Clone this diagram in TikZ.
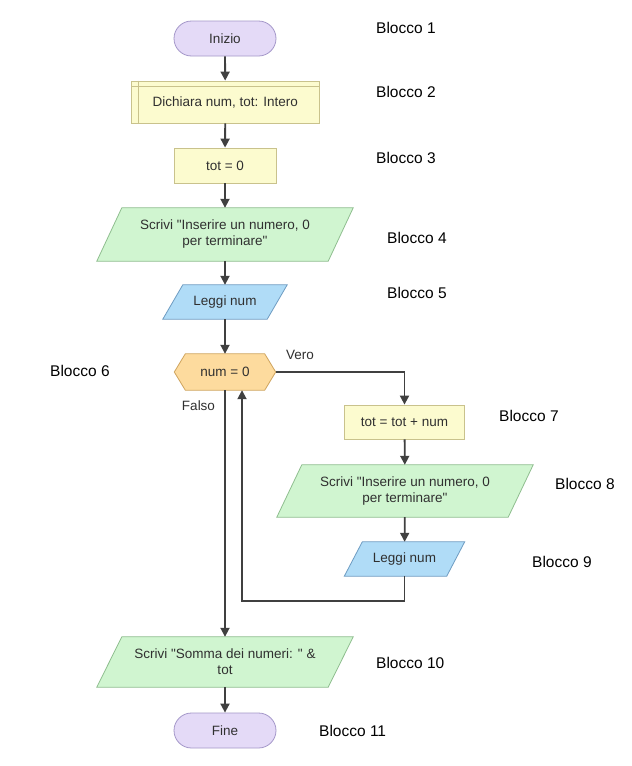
\documentclass[tikz,border=0pt]{standalone}
\usepackage{fontspec}
\setmainfont{Liberation Sans}[Ligatures=TeXOff]
\usetikzlibrary{arrows.meta}
\pgfdeclarelayer{bg}
\pgfsetlayers{bg,main}
\definecolor{termfill}{HTML}{E4DAF7}
\definecolor{termdraw}{HTML}{A497C9}
\definecolor{procfill}{HTML}{FCFBCF}
\definecolor{procdraw}{HTML}{C9C28C}
\definecolor{iofill}{HTML}{D0F5D0}
\definecolor{iodraw}{HTML}{8FBE8F}
\definecolor{infill}{HTML}{B0DCF7}
\definecolor{indraw}{HTML}{6E9CC2}
\definecolor{decfill}{HTML}{FDDB9E}
\definecolor{decdraw}{HTML}{CFA45E}
\definecolor{linecol}{HTML}{404040}
\definecolor{txt}{HTML}{303030}
\newcommand\myparal[3]{%
  \begin{pgfonlayer}{bg}
  \filldraw[#3] ([xshift=#2]#1.north west) -- (#1.north east) -- ([xshift=-#2]#1.south east) -- (#1.south west) -- cycle;
  \end{pgfonlayer}}
\begin{document}
\begin{tikzpicture}[x=1pt,y=-1pt,
  box/.style={inner sep=0pt, align=center, font=\fontsize{13.5}{16}\selectfont, text=txt},
  term/.style={box, draw=termdraw, fill=termfill, line width=0.8pt, rounded corners=17.5pt, minimum width=102pt, minimum height=35pt},
  proc/.style={box, draw=procdraw, fill=procfill, line width=0.8pt, minimum height=35pt},
  io/.style={draw=iodraw, fill=iofill, line width=0.8pt},
  inp/.style={draw=indraw, fill=infill, line width=0.8pt},
  dec/.style={draw=decdraw, fill=decfill, line width=0.8pt},
  blk/.style={anchor=west, inner sep=0pt, font=\fontsize{15.5}{18}\selectfont, text=black},
  lbl/.style={inner sep=0pt, font=\fontsize{13.5}{16}\selectfont, text=txt},
  arr/.style={draw=linecol, line width=1.8pt, -{Triangle[width=9pt,length=9pt]}}]
\begin{pgfonlayer}{bg}
\fill[white] (0,0) rectangle (632,766);
\end{pgfonlayer}
\useasboundingbox (0,0) rectangle (632,766);

% nodes
\node[term] (n1) at (225,38.5) {Inizio};
\node[proc, minimum width=187.5pt, minimum height=42pt] (n2) at (225.25,102) {\raisebox{-3pt}{Dichiara num, tot: Intero}};
\draw[procdraw, line width=0.8pt] ([yshift=-6pt]n2.north west) -- ([yshift=-6pt]n2.north east);
\draw[procdraw, line width=0.8pt] ([xshift=7pt]n2.north west) -- ([xshift=7pt]n2.south west);
\node[proc, minimum width=102pt] (n3) at (225,165.5) {tot = 0};
\node[box, minimum width=256pt, minimum height=53pt] (n4) at (225,234.5) {Scrivi "Inserire un numero, 0\\per terminare"};
\myparal{n4}{25pt}{io}
\node[box, minimum width=124pt, minimum height=34pt] (n5) at (225,302) {Leggi num};
\myparal{n5}{20pt}{inp}
\node[box, minimum width=101pt, minimum height=36pt] (n6) at (225,372) {num = 0};
\begin{pgfonlayer}{bg}
\filldraw[dec] (n6.west) -- ([xshift=11pt]n6.north west) -- ([xshift=-11pt]n6.north east) -- (n6.east) -- ([xshift=-11pt]n6.south east) -- ([xshift=11pt]n6.south west) -- cycle;
\end{pgfonlayer}
\node[proc, minimum width=120pt, minimum height=34pt] (n7) at (404.5,422) {tot = tot + num};
\node[box, minimum width=256pt, minimum height=52pt] (n8) at (405,491) {Scrivi "Inserire un numero, 0\\per terminare"};
\myparal{n8}{25pt}{io}
\node[box, minimum width=120pt, minimum height=34pt] (n9) at (404.5,559) {Leggi num};
\myparal{n9}{18pt}{inp}
\node[box, minimum width=256pt, minimum height=50pt] (n10) at (225,662) {Scrivi "Somma dei numeri: " \&\\tot};
\myparal{n10}{25pt}{io}
\node[term] (n11) at (225,730.5) {Fine};

% connectors
\draw[arr] (n1) -- (n2);
\draw[arr] (n2) -- (n3);
\draw[arr] (n3) -- (n4);
\draw[arr] (n4) -- (n5);
\draw[arr] (n5) -- (n6);
\draw[arr] (n6.east) -| (n7.north);
\draw[arr] (n7) -- (n8);
\draw[arr] (n8) -- (n9);
\coordinate (loopc) at (404.5,601);
\draw[arr] (n9.south) -- (loopc) -| ([xshift=17pt]n6.south);
\draw[arr] (n6.south) -- (n10.north);
\draw[arr] (n10) -- (n11);

% branch labels
\node[lbl] (vero) at (300,355) {Vero};
\node[lbl] (falso) at (198.5,406) {Falso};

% block labels
\node[blk] (b1) at (376,28) {Blocco 1};
\node[blk] (b2) at (376,92) {Blocco 2};
\node[blk] (b3) at (376,158) {Blocco 3};
\node[blk] (b4) at (387,238) {Blocco 4};
\node[blk] (b5) at (387,293) {Blocco 5};
\node[blk] (b6) at (50,371) {Blocco 6};
\node[blk] (b7) at (499,416) {Blocco 7};
\node[blk] (b8) at (555,484) {Blocco 8};
\node[blk] (b9) at (532,562) {Blocco 9};
\node[blk] (b10) at (376,663) {Blocco 10};
\node[blk] (b11) at (319,731) {Blocco 11};
\end{tikzpicture}
\end{document}
